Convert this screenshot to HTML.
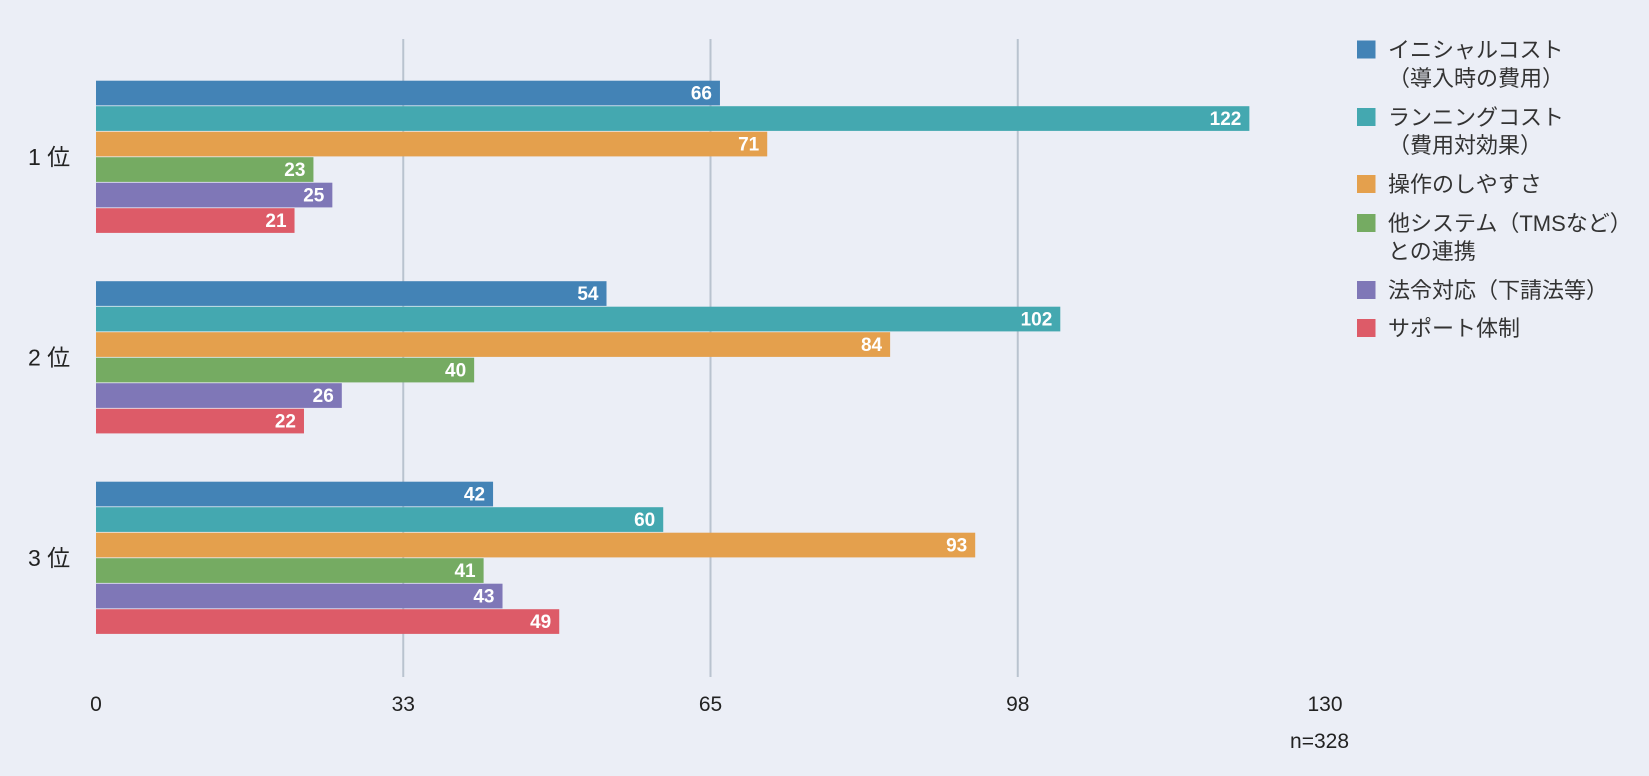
<!DOCTYPE html>
<html><head><meta charset="utf-8"><style>
html,body{margin:0;padding:0;background:#ebeef6;}
svg{display:block;font-family:"Liberation Sans","Noto Sans CJK JP",sans-serif;}
</style></head><body>
<svg id="chart" width="1649" height="776" xmlns="http://www.w3.org/2000/svg">
<rect width="1649" height="776" fill="#ebeef6"/>
<g id="grid"></g><g id="bars"></g><g id="axis"></g><g id="legend"></g>
<text x="1349" y="748" text-anchor="end" font-size="21" fill="#222">n=328</text>
</svg>
<script>
const categories = ["1 位", "2 位", "3 位"];
const seriesNames = [["イニシャルコスト","（導入時の費用）"],["ランニングコスト","（費用対効果）"],["操作のしやすさ"],["他システム（TMSなど）","との連携"],["法令対応（下請法等）"],["サポート体制"]];
const initialCost = [66, 54, 42];
const runningCost = [122, 102, 60];
const easeOfUse = [71, 84, 93];
const integration = [23, 40, 41];
const compliance = [25, 26, 43];
const support = [21, 22, 49];
const tickValues = [0, 32.5, 65, 97.5, 130];
const tickLabels = ["0", "33", "65", "98", "130"];
const series = [initialCost, runningCost, easeOfUse, integration, compliance, support];
const colors = ["#4383b6","#44a8b0","#e4a04d","#75ab62","#7f77b7","#dd5b68"];
const NS="http://www.w3.org/2000/svg";
const x0=96, x1=1325, xmax=130;
const xs=v=>x0+(x1-x0)*v/xmax;
const groupTop=[80.7,281.2,481.7];
const barH=25.5;
function mk(tag,attrs,parent){const e=document.createElementNS(NS,tag);for(const k in attrs)e.setAttribute(k,attrs[k]);parent.appendChild(e);return e;}
const grid=document.getElementById('grid'),bars=document.getElementById('bars'),axis=document.getElementById('axis'),legend=document.getElementById('legend');
tickValues.forEach((t,i)=>{
  if(i>0&&i<tickValues.length-1){const l=mk('line',{x1:xs(t),x2:xs(t),y1:39,y2:677,stroke:'#b9c3cf','stroke-width':2},grid);
    
    }
  const tx=mk('text',{x:xs(t),y:711,'text-anchor':'middle','font-size':21,fill:'#222'},axis);
  tx.textContent=tickLabels[i];
  
  
});
categories.forEach((c,ci)=>{
  const lab=mk('text',{x:28,y:groupTop[ci]+3*barH+8,'font-size':23,fill:'#222'},axis);
  lab.textContent=c;
  
  
  series.forEach((s,si)=>{
    const y=groupTop[ci]+si*barH;
    const r=mk('rect',{x:x0,y:y,width:xs(s[ci])-x0,height:barH-0.8,fill:colors[si]},bars);
    
    
    const t=mk('text',{x:xs(s[ci])-8,y:y+19,'text-anchor':'end','font-size':19,'font-weight':'bold',fill:'#fff'},bars);
    t.textContent=s[ci];
    
    
  });
});
const legRows=[[49.5,78],[117,145],[184],[223,251],[290],[328]];
seriesNames.forEach((n,i)=>{
  const g=mk('g',{},legend);
  
  
  mk('rect',{x:1357,y:legRows[i][0]-9,width:18.5,height:18,fill:colors[i]},g);
  n.forEach((line,li)=>{const t=mk('text',{x:1388,y:legRows[i][li]+8,'font-size':22,fill:'#333'},g);t.textContent=line;});
});
</script>
</body></html>
